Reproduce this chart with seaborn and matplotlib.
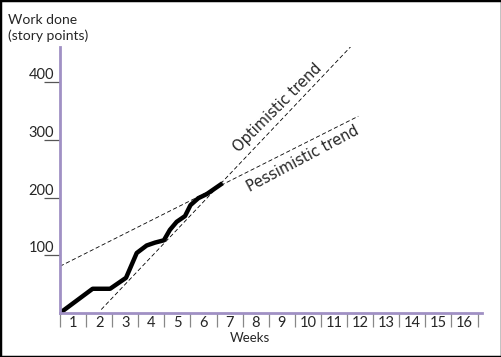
import numpy as np
import pandas as pd
import matplotlib
matplotlib.use("Agg")
import matplotlib.pyplot as plt
import seaborn as sns
from matplotlib.patches import Rectangle
from matplotlib.transforms import blended_transform_factory

# data
weeks = [0, 1.25, 1.92, 2.53, 2.94, 3.32, 3.64, 3.98, 4.21, 4.47, 4.79, 5.0, 5.3, 5.62, 6.23]
points = [0, 42, 42, 61, 104, 117, 122, 126, 144, 158, 168, 187, 199, 206, 225]

opt_weeks = [1.58, 11.4]
opt_points = [6, 474]
pes_weeks = [0, 11.43]
pes_points = [81, 341]

week_labels = [str(i) for i in range(1, 17)]
y_ticks = [100, 200, 300, 400]

sns.set_theme(style="white")
plt.rcParams['font.family'] = ['Lato', 'DejaVu Sans']

fig = plt.figure(figsize=(5.02, 3.57), dpi=100)
W, H = 502, 357
ax = fig.add_axes([60 / W, (H - 313) / H, (482 - 60) / W, (313 - 47) / H])

axis_col = '#a090c4'

df = pd.DataFrame({'week': weeks, 'points': points})
sns.lineplot(data=df, x='week', y='points', ax=ax, color='black', lw=3.2,
             solid_capstyle='butt', sort=False)
sns.lineplot(x=opt_weeks, y=opt_points, ax=ax, color='black', lw=0.6,
             linestyle=(0, (5, 3)))
sns.lineplot(x=pes_weeks, y=pes_points, ax=ax, color='black', lw=0.6,
             linestyle=(0, (5, 3)))

ax.set_xlim(0, 16.17)
ax.set_ylim(0, 461)
ax.set_xlabel('')
ax.set_ylabel('')

for s in ['top', 'right']:
    ax.spines[s].set_visible(False)
for s in ['left', 'bottom']:
    ax.spines[s].set_color(axis_col)
    ax.spines[s].set_linewidth(2)

# x ticks: lines at week boundaries, labels in the middle
ax.set_xticks(np.arange(0, 17))
ax.set_xticklabels([])
ax.set_xticks(np.arange(0.5, 16), minor=True)
ax.set_xticklabels(week_labels, minor=True, fontsize=10.5)
ax.tick_params(axis='x', which='major', direction='out', length=10, width=0.9,
               color='#888888', bottom=True)
ax.tick_params(axis='x', which='minor', length=0, pad=2, bottom=True)

# y ticks: short lines to the left with labels sitting on them
ax.set_yticks(y_ticks)
ax.set_yticklabels([])
ax.tick_params(axis='y', direction='out', length=11.5, width=0.9,
               color='#555555', left=True)
tr = blended_transform_factory(fig.transFigure, ax.transData)
for v in y_ticks:
    ax.text(54 / W, v, str(v), transform=tr, ha='right', va='bottom',
            fontsize=10.5)

ax.text(8.35, 355, 'Optimistic trend', rotation=45, rotation_mode='anchor',
        ha='center', va='center', fontsize=10.5, family='DejaVu Sans')
ax.text(9.31, 268, 'Pessimistic trend', rotation=28, rotation_mode='anchor',
        ha='center', va='center', fontsize=10.5, family='DejaVu Sans')

fig.text(250 / W, 1 - 338 / H, 'Weeks', ha='center', va='center', fontsize=9.5)
fig.text(8 / W, 1 - 28 / H, 'Work done\n(story points)', ha='left',
         va='center', fontsize=10, linespacing=1.25)

fig.patches.append(Rectangle((0, 0), 1, 1, transform=fig.transFigure,
                             fill=False, edgecolor='black', lw=2.5))

fig.savefig('out.png', dpi=100)
